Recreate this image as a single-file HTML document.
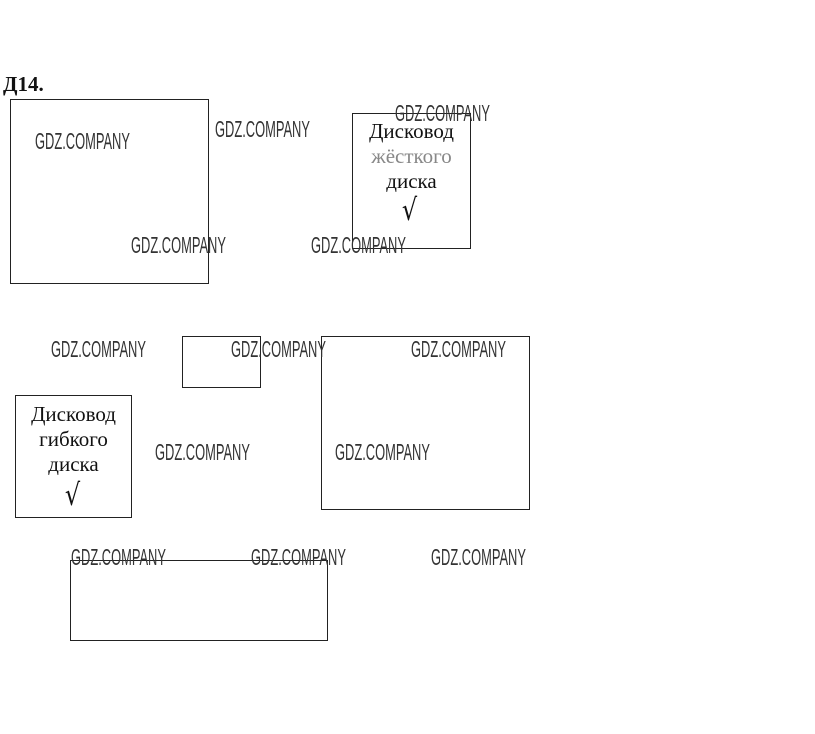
<!DOCTYPE html>
<html><head><meta charset="utf-8"><style>
body{margin:0;background:#fff;}
#c{position:relative;width:815px;height:734px;overflow:hidden;background:#fff;}
.b{position:absolute;border:1px solid #222;box-sizing:border-box;}
.w{position:absolute;font-family:"Liberation Sans",sans-serif;font-size:23px;line-height:23px;color:#333;white-space:nowrap;transform:scaleX(0.56);transform-origin:0 0;}
.t{position:absolute;font-family:"Liberation Serif",serif;font-size:21px;line-height:25px;color:#111;text-align:center;}
.ck{position:absolute;font-family:"DejaVu Sans",sans-serif;font-size:30px;line-height:30px;color:#111;transform:scaleX(0.8);}
</style></head><body><div id="c">
<div style="position:absolute;left:3px;top:72px;font-family:'Liberation Serif',serif;font-weight:bold;font-size:21px;line-height:24px;color:#111;">Д14.</div>
<div class="b" style="left:10px;top:99px;width:199px;height:185px;"></div>
<div class="b" style="left:352px;top:113px;width:119px;height:136px;"></div>
<div class="b" style="left:182px;top:336px;width:79px;height:52px;"></div>
<div class="b" style="left:15px;top:395px;width:117px;height:123px;"></div>
<div class="b" style="left:321px;top:336px;width:209px;height:174px;"></div>
<div class="b" style="left:70px;top:560px;width:258px;height:81px;"></div>

<div class="t" style="left:352px;top:119px;width:119px;">Дисковод<br><span style="color:#888">жёсткого</span><br>диска</div>
<div class="ck" style="left:400px;top:196px;">√</div>
<div class="t" style="left:15px;top:402px;width:117px;">Дисковод<br>гибкого<br>диска</div>
<div class="ck" style="left:63px;top:481px;">√</div>

<div class="w" style="left:35px;top:130px;">GDZ.COMPANY</div>
<div class="w" style="left:215px;top:118px;">GDZ.COMPANY</div>
<div class="w" style="left:131px;top:234px;">GDZ.COMPANY</div>
<div class="w" style="left:311px;top:234px;">GDZ.COMPANY</div>
<div class="w" style="left:395px;top:102px;">GDZ.COMPANY</div>
<div class="w" style="left:51px;top:338px;">GDZ.COMPANY</div>
<div class="w" style="left:231px;top:338px;">GDZ.COMPANY</div>
<div class="w" style="left:411px;top:338px;">GDZ.COMPANY</div>
<div class="w" style="left:155px;top:441px;">GDZ.COMPANY</div>
<div class="w" style="left:335px;top:441px;">GDZ.COMPANY</div>
<div class="w" style="left:71px;top:546px;">GDZ.COMPANY</div>
<div class="w" style="left:251px;top:546px;">GDZ.COMPANY</div>
<div class="w" style="left:431px;top:546px;">GDZ.COMPANY</div>
</div></body></html>
